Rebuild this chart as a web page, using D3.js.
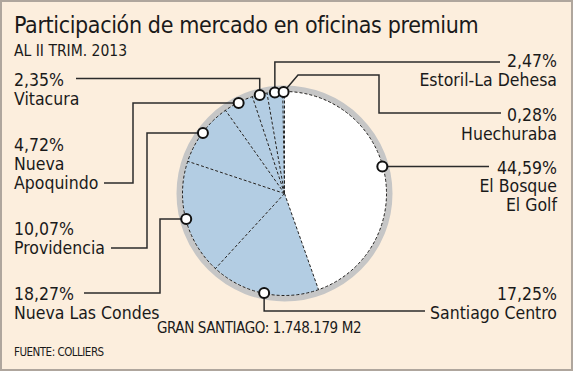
<!DOCTYPE html>
<html><head><meta charset="utf-8">
<script src="https://cdn.jsdelivr.net/npm/d3@7"></script>
<style>
html,body{margin:0;padding:0;background:#fff;}
text{font-family:"DejaVu Sans Condensed","DejaVu Sans",sans-serif;font-stretch:condensed;fill:#1a1a1a;}
</style></head><body>
<svg id="chart" width="573" height="371"></svg>
<script>
// ---- data ----
const categories = ["El Bosque\nEl Golf","Santiago Centro","Nueva Las Condes","Providencia","Nueva\nApoquindo","Vitacura","Estoril-La Dehesa","Huechuraba"];
const values = [44.59,17.25,18.27,10.07,4.72,2.35,2.47,0.28];
const valueLabels = ["44,59%","17,25%","18,27%","10,07%","4,72%","2,35%","2,47%","0,28%"];
const title = "Participación de mercado en oficinas premium";
const subtitle = "AL II TRIM. 2013";
const totalNote = "GRAN SANTIAGO: 1.748.179 M2";
const source = "FUENTE: COLLIERS";

// ---- layout ----
const W=573,H=371, cx=284.5, cy=193.5, R=102, ringW=6;
const svg=d3.select("#chart");
svg.append("rect").attr("x",1).attr("y",1).attr("width",W-2).attr("height",H-2)
  .attr("fill","#FCEEDD").attr("stroke","#AFA69D").attr("stroke-width",2);

svg.append("text").attr("x",14).attr("y",33).attr("font-size",23).attr("letter-spacing",-0.36).text(title);
svg.append("text").attr("x",14).attr("y",56).attr("font-size",15.5).text(subtitle);
svg.append("text").attr("x",259).attr("y",333).attr("text-anchor","middle").attr("font-size",15).attr("letter-spacing",-0.4).text(totalNote);
svg.append("text").attr("x",14).attr("y",356).attr("font-size",11.5).attr("letter-spacing",-0.5).text(source);

const pie=d3.pie().sort(null).value(d=>d)(values);
const arc=d3.arc().innerRadius(0).outerRadius(R);
const g=svg.append("g").attr("transform",`translate(${cx},${cy})`);
g.append("circle").attr("r",R+ringW/2).attr("fill","none").attr("stroke","#C6C6C6").attr("stroke-width",ringW);
g.selectAll("path.slice").data(pie).join("path").attr("class","slice").attr("d",arc)
  .attr("fill",(d,i)=>i===0?"#FFFFFF":"#B3CDE3");
g.selectAll("line.div").data(pie).join("line").attr("class","div")
  .attr("x1",0).attr("y1",0)
  .attr("x2",d=>R*Math.sin(d.startAngle)).attr("y2",d=>-R*Math.cos(d.startAngle))
  .attr("stroke","#222").attr("stroke-width",1).attr("stroke-dasharray","3,2");
g.append("circle").attr("r",R).attr("fill","none").attr("stroke","#222").attr("stroke-width",1).attr("stroke-dasharray","3,2");

// label layout: route (relative to dot) and text anchor
const lbl = [
  {side:"r", lines:[173.5,192,210.5], angShift:-0.1, route:d=>[[d[0],d[1]],[489,d[1]]]},
  {side:"r", lines:[300,319], route:d=>[[d[0],d[1]],[d[0],311],[425,311]]},
  {side:"l", lines:[300,319], route:d=>[[d[0],d[1]],[160,d[1]],[160,293],[84,293]]},
  {side:"l", lines:[235,254], route:d=>[[d[0],d[1]],[147,d[1]],[147,248],[111,248]]},
  {side:"l", lines:[150.5,169.5,188.5], route:d=>[[d[0],d[1]],[133,d[1]],[133,183],[104,183]]},
  {side:"l", lines:[86,105], route:d=>[[d[0],d[1]],[d[0],78.5],[76,78.5]]},
  {side:"r", lines:[67,85.5], route:d=>[[d[0],d[1]],[d[0],62],[500,62]]},
  {side:"r", lines:[121,140], route:d=>[[d[0],d[1]],[298,75],[379,75],[379,113],[501,113]]}
];
const dots = pie.map((d,i)=>{
  const a=(d.startAngle+d.endAngle)/2+(lbl[i].angShift||0);
  return [cx+(R-0.5)*Math.sin(a), cy-(R-0.5)*Math.cos(a)];
});
svg.append("g").selectAll("path").data(dots).join("path")
  .attr("d",(d,i)=>d3.line()(lbl[i].route(d)))
  .attr("fill","none").attr("stroke","#2b2b2b").attr("stroke-width",1.5);
svg.append("g").selectAll("circle").data(dots).join("circle")
  .attr("cx",d=>d[0]).attr("cy",d=>d[1]).attr("r",5)
  .attr("fill","#fff").attr("stroke","#111").attr("stroke-width",2);

const tg=svg.append("g");
pie.forEach((d,i)=>{
  const L=lbl[i];
  const texts=[valueLabels[i],...categories[i].split("\n")];
  texts.forEach((t,j)=>{
    tg.append("text").attr("x",L.side==="r"?557:14).attr("y",L.lines[j])
      .attr("text-anchor",L.side==="r"?"end":"start").attr("font-size",17.5).text(t);
  });
});
</script></body></html>
